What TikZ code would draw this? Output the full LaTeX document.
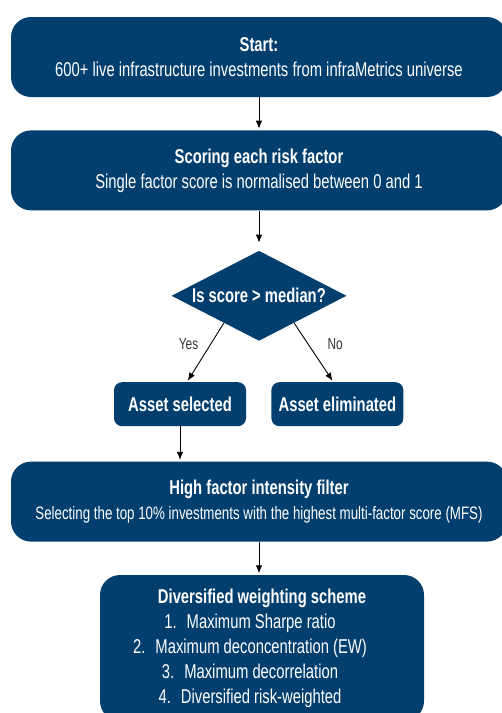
\documentclass[tikz,border=0pt]{standalone}
\usepackage{fontspec}
\setmainfont{Liberation Sans}[FakeStretch=0.74]
\usetikzlibrary{shapes,arrows.meta,positioning,calc}
\definecolor{navy}{HTML}{023F6E}
\tikzset{
wide/.style = {fill=navy, text=white, rounded corners=20pt, minimum width=496pt, minimum height=80pt, align=center},
small/.style = {fill=navy, text=white, rounded corners=8pt, minimum width=132pt, minimum height=44pt, font=\fontsize{20}{25}\selectfont\bfseries},
decision/.style = {diamond, aspect=2, fill=navy, text=white, inner sep=0pt, minimum width=175pt, minimum height=90pt, font=\fontsize{20}{25}\selectfont\bfseries},
answer/.style = {text=black!80, font=\fontsize{16}{19}\selectfont},
line/.style = {draw, ->, line width=0.9pt, shorten >=1.5pt}
}

\begin{document}
\begin{tikzpicture}[x=1pt, y=-1pt, node distance=33pt, >={Latex[length=8pt,width=6.5pt]}, font=\fontsize{20}{25}\selectfont]
  \useasboundingbox (0,0) rectangle (502,713);

  \node [wide] (start) at (259,57) {\textbf{Start:}\\600+ live infrastructure investments from infraMetrics universe};
  \node [wide, below=of start]                        (scoring)    {\textbf{Scoring each risk factor}\\Single factor score is normalised between 0 and 1};
  \node [decision, below=40pt of scoring]             (decide)     {Is score > median?};
  \node [small, below=41pt of decide, xshift=-79pt]   (selected)   {Asset selected};
  \node [small, right=25pt of selected]               (eliminated) {Asset eliminated};
  \node [wide, anchor=north] (filter) at ($(selected.south -| start)+(0,35)$)
    {\textbf{High factor intensity filter}\\{\fontsize{18}{23}\selectfont Selecting the top 10\% investments with the highest multi-factor score (MFS)}};
  \node [wide, below=of filter, xshift=3pt, minimum width=324pt, minimum height=146pt] (weighting)
    {\textbf{Diversified weighting scheme}\\
     \hspace*{-24pt}1.\hspace{10pt}Maximum Sharpe ratio\\
     \hspace*{-24pt}2.\hspace{10pt}Maximum deconcentration (EW)\\
     \hspace*{-24pt}3.\hspace{10pt}Maximum decorrelation\\
     \hspace*{-24pt}4.\hspace{10pt}Diversified risk-weighted};

  \draw [line] (start) -- (scoring);
  \draw [line, shorten >=8pt] (scoring) -- (decide);
  \draw [line] ($(decide.west)!0.6!(decide.south)$) -- node [answer, pos=0.35, left=9pt] {Yes} ([xshift=7pt]selected.north);
  \draw [line] ($(decide.east)!0.6!(decide.south)$) -- node [answer, pos=0.35, right=16pt] {No} ([xshift=-4pt]eliminated.north);
  \draw [line] (selected) -- (selected |- filter.north);
  \draw [line] (filter.south) -- (filter.south |- weighting.north);
\end{tikzpicture}
\end{document}
